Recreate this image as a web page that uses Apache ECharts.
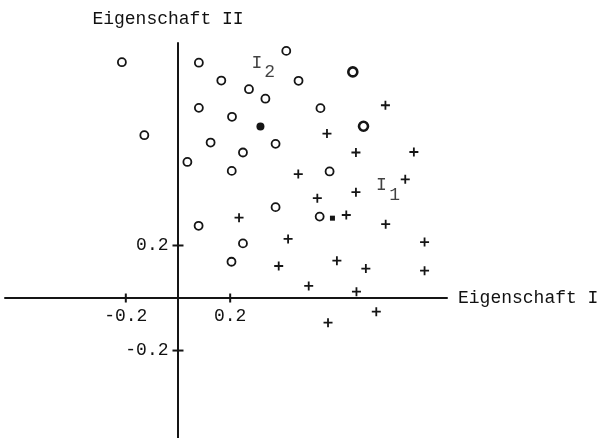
<!DOCTYPE html>
<html>
<head>
<meta charset="utf-8">
<title>Eigenschaft I / Eigenschaft II</title>
<script src="https://cdn.jsdelivr.net/npm/echarts@6/dist/echarts.min.js"></script>
<style>
  html, body { margin: 0; padding: 0; background: #fff; }
  #chart { width: 601px; height: 438px; }
</style>
</head>
<body>
<div id="chart"></div>
<script>
// Objects of class I2 (open circles)
const circlesX = [-0.215, -0.129, 0.080, 0.166, 0.272, 0.335, 0.080, 0.207, 0.125, 0.374, 0.249, 0.036, 0.206, 0.415, 0.462, 0.546, 0.581, 0.374, 0.079, 0.249, 0.205, 0.543];
const circlesY = [0.898, 0.620, 0.896, 0.828, 0.795, 0.759, 0.724, 0.690, 0.592, 0.587, 0.554, 0.518, 0.484, 0.941, 0.827, 0.723, 0.482, 0.346, 0.275, 0.208, 0.138, 0.310];
// Circles printed heavier
const boldCirclesX = [0.670, 0.711];
const boldCirclesY = [0.861, 0.654];
// Objects of class I1 (crosses)
const plusX = [0.795, 0.571, 0.682, 0.904, 0.461, 0.871, 0.682, 0.534, 0.645, 0.796, 0.234, 0.422, 0.945, 0.609, 0.386, 0.720, 0.945, 0.501, 0.684, 0.760, 0.575];
const plusY = [0.734, 0.626, 0.554, 0.556, 0.472, 0.452, 0.403, 0.380, 0.316, 0.281, 0.306, 0.225, 0.213, 0.142, 0.122, 0.112, 0.104, 0.046, 0.024, -0.052, -0.094];
// Class centres
const centreI2 = [0.316, 0.653];
const centreI1 = [0.592, 0.304];
// Class labels
const annoText = ['I', '2', 'I', '1'];
const annoX = [0.302, 0.351, 0.780, 0.830];
const annoY = [0.895, 0.861, 0.430, 0.392];
// Axis ticks and their labels
const tickValues = [-0.2, 0.2];
const tickLabels = ['-0.2', '0.2'];
const xName = 'Eigenschaft I';
const yName = 'Eigenschaft II';

const XMIN = -0.663, XMAX = 1.031, YMIN = -0.533, YMAX = 0.971;
const FONT = "'Liberation Mono', 'DejaVu Sans Mono', monospace";
const INK = '#151515';
const TEXT = '#111';
const FS = 18;

const zip = (a, b) => a.map((v, i) => [v, b[i]]);
const plusPath = 'path://M3.6,0h1.8v3.6h3.6v1.8h-3.6v3.6h-1.8v-3.6h-3.6v-1.8h3.6z';
const textStyle = { color: TEXT, fontFamily: FONT, fontSize: FS };

const chart = echarts.init(document.getElementById('chart'), null, { renderer: 'canvas' });
chart.setOption({
  backgroundColor: '#fff',
  animation: false,
  grid: { left: 5, right: 154, top: 43, bottom: 0, containLabel: false, outerBoundsMode: 'none' },
  xAxis: {
    type: 'value', min: XMIN, max: XMAX,
    splitLine: { show: false },
    axisTick: { show: false },
    axisLabel: { show: false },
    axisLine: { onZero: true, lineStyle: { color: INK, width: 2 } },
    name: xName, nameLocation: 'end', nameGap: 11,
    nameTextStyle: textStyle
  },
  yAxis: {
    type: 'value', min: YMIN, max: YMAX,
    splitLine: { show: false },
    axisTick: { show: false },
    axisLabel: { show: false },
    axisLine: { onZero: true, lineStyle: { color: INK, width: 2 } },
    name: yName, nameLocation: 'end', nameGap: 15,
    nameTextStyle: Object.assign({ padding: [0, 20, 0, 0] }, textStyle)
  },
  series: [
    { // tick marks and labels on the horizontal axis
      type: 'scatter', silent: true, z: 3,
      data: tickValues.map((v, i) => ({ value: [v, 0], name: tickLabels[i] })),
      symbol: 'rect', symbolSize: [2, 9], itemStyle: { color: INK, opacity: 1 },
      label: Object.assign({ show: true, position: 'bottom', distance: 5, formatter: p => p.name }, textStyle)
    },
    { // tick marks and labels on the vertical axis
      type: 'scatter', silent: true, z: 3,
      data: tickValues.map((v, i) => ({ value: [0, v], name: tickLabels[i] })),
      symbol: 'rect', symbolSize: [11, 2], itemStyle: { color: INK, opacity: 1 },
      label: Object.assign({ show: true, position: 'left', distance: 4, formatter: p => p.name }, textStyle)
    },
    {
      name: 'I2', type: 'scatter', z: 4,
      data: zip(circlesX, circlesY),
      symbol: 'circle', symbolSize: 8,
      itemStyle: { color: '#fff', borderColor: INK, borderWidth: 1.8, opacity: 1 }
    },
    {
      name: 'I2 bold', type: 'scatter', z: 4,
      data: zip(boldCirclesX, boldCirclesY),
      symbol: 'circle', symbolSize: 9,
      itemStyle: { color: '#fff', borderColor: INK, borderWidth: 2.6, opacity: 1 }
    },
    {
      name: 'I1', type: 'scatter', z: 4,
      data: zip(plusX, plusY),
      symbol: plusPath, symbolSize: 9, symbolKeepAspect: true,
      itemStyle: { color: INK, opacity: 1 }
    },
    {
      name: 'Zentrum I2', type: 'scatter', z: 5,
      data: [centreI2],
      symbol: 'circle', symbolSize: 8,
      itemStyle: { color: INK, opacity: 1 }
    },
    {
      name: 'Zentrum I1', type: 'scatter', z: 5,
      data: [centreI1],
      symbol: 'rect', symbolSize: 5,
      itemStyle: { color: INK, opacity: 1 }
    },
    {
      name: 'labels', type: 'scatter', silent: true, z: 6,
      data: annoText.map((t, i) => ({ value: [annoX[i], annoY[i]], name: t })),
      symbolSize: 0,
      label: Object.assign({ show: true, position: 'inside', formatter: p => p.name }, textStyle)
    }
  ]
});
</script>
</body>
</html>
